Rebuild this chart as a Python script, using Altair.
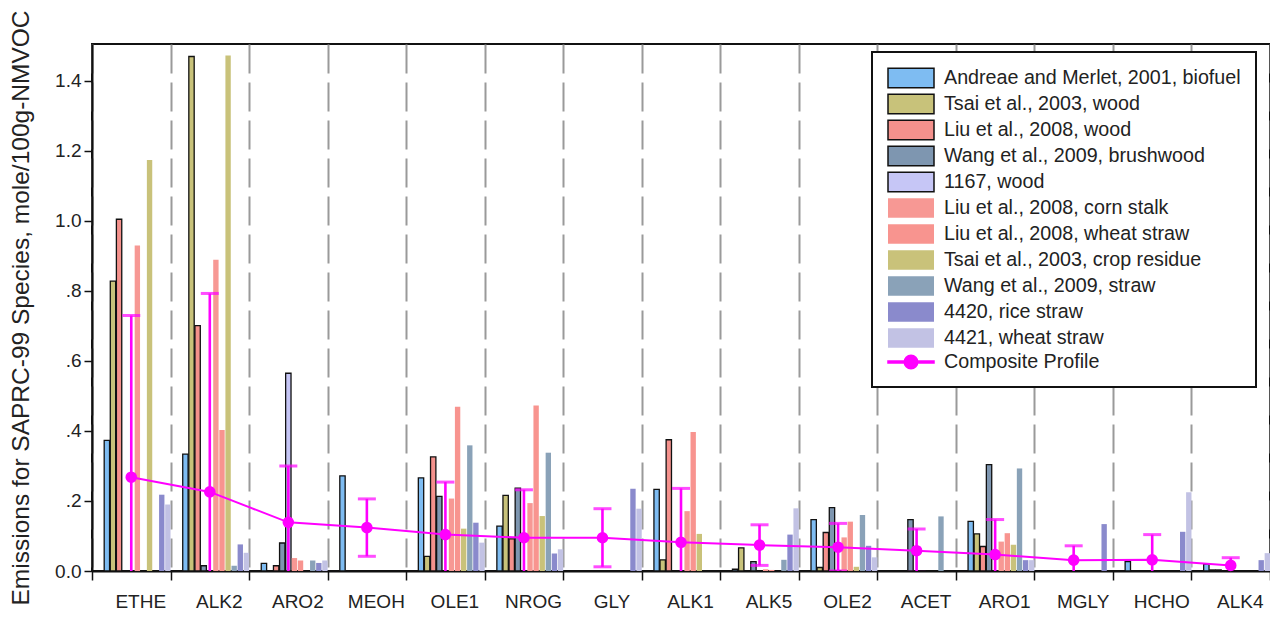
import altair as alt
import pandas as pd

categories = ["ETHE", "ALK2", "ARO2", "MEOH", "OLE1", "NROG", "GLY", "ALK1",
              "ALK5", "OLE2", "ACET", "ARO1", "MGLY", "HCHO", "ALK4"]

series_names = [
    "Andreae and Merlet, 2001, biofuel",
    "Tsai et al., 2003, wood",
    "Liu et al., 2008, wood",
    "Wang et al., 2009, brushwood",
    "1167, wood",
    "Liu et al., 2008, corn stalk",
    "Liu et al., 2008, wheat straw",
    "Tsai et al., 2003, crop residue",
    "Wang et al., 2009, straw",
    "4420, rice straw",
    "4421, wheat straw",
]
composite_name = "Composite Profile"

andreae_2001_biofuel = [0.373, 0.334, 0.022, 0.272, 0.266, 0.128, 0, 0.233, 0.005, 0.147, 0, 0.142, 0, 0.027, 0.020]
tsai_2003_wood = [0.828, 1.470, 0, 0, 0.042, 0.216, 0, 0.032, 0.066, 0.010, 0, 0.106, 0, 0, 0.003]
liu_2008_wood = [1.005, 0.701, 0.015, 0, 0.326, 0.092, 0, 0.375, 0, 0.110, 0, 0.070, 0, 0, 0.003]
wang_2009_brushwood = [0, 0.015, 0.080, 0, 0.213, 0.237, 0, 0, 0.027, 0.181, 0.147, 0.304, 0, 0, 0]
spec_1167_wood = [0, 0, 0.565, 0, 0, 0, 0, 0, 0, 0, 0, 0, 0, 0, 0]
liu_2008_corn_stalk = [0.930, 0.889, 0.037, 0, 0.207, 0.194, 0, 0.171, 0.005, 0.096, 0, 0.084, 0, 0, 0]
liu_2008_wheat_straw = [0, 0.403, 0.030, 0, 0.469, 0.473, 0, 0.397, 0.003, 0.141, 0, 0.108, 0, 0, 0]
tsai_2003_crop_residue = [1.174, 1.473, 0, 0, 0.121, 0.157, 0, 0.106, 0, 0.012, 0, 0.075, 0, 0, 0]
wang_2009_straw = [0, 0.015, 0.030, 0, 0.359, 0.338, 0, 0, 0.032, 0.160, 0.156, 0.293, 0, 0, 0]
spec_4420_rice_straw = [0.218, 0.076, 0.023, 0, 0.138, 0.050, 0.235, 0, 0.104, 0.072, 0, 0.031, 0.134, 0.112, 0.031]
spec_4421_wheat_straw = [0.190, 0.052, 0.030, 0, 0.081, 0.062, 0.178, 0, 0.179, 0.039, 0, 0.031, 0, 0.225, 0.051]

composite_mean = [0.268, 0.226, 0.139, 0.124, 0.104, 0.095, 0.095, 0.082, 0.074, 0.068, 0.058, 0.047, 0.031, 0.032, 0.016]
composite_err = [0.462, 0.567, 0.161, 0.082, 0.150, 0.137, 0.083, 0.154, 0.058, 0.068, 0.062, 0.100, 0.041, 0.072, 0.022]

series_values = [andreae_2001_biofuel, tsai_2003_wood, liu_2008_wood, wang_2009_brushwood,
                 spec_1167_wood, liu_2008_corn_stalk, liu_2008_wheat_straw,
                 tsai_2003_crop_residue, wang_2009_straw, spec_4420_rice_straw,
                 spec_4421_wheat_straw]

fill_colors = ["#7EBCF2", "#C8C27A", "#F4918C", "#7E96B0", "#C6C6F6", "#F79894",
               "#F8948F", "#C9C27A", "#8AA2B8", "#8A8ACC", "#C2C2E4", "#FF00FF"]
stroke_colors = ["#111111"] * 5 + ["transparent"] * 6 + ["#FF00FF"]

# legend glyphs (unit = 10 px at symbolSize 400)
rect_path = "M-2.3,-0.97H2.3V0.97H-2.3Z"
comp_path = "M-2.3,-0.11H2.3V0.11H-2.3Z M0.68,0 A0.68,0.68 0 1,1 -0.68,0 A0.68,0.68 0 1,1 0.68,0 Z"

rows = []
for name, vals in zip(series_names, series_values):
    for cat, v in zip(categories, vals):
        if v > 0:
            rows.append({"category": cat, "series": name, "value": v})
bars_df = pd.DataFrame(rows)

comp_df = pd.DataFrame({
    "category": categories,
    "mean": composite_mean,
    "lower": [m - e for m, e in zip(composite_mean, composite_err)],
    "upper": [m + e for m, e in zip(composite_mean, composite_err)],
})

legend_df = pd.DataFrame({"series": series_names + [composite_name]})

FONT = "Liberation Sans"
all_series = series_names + [composite_name]

fill_scale = alt.Scale(domain=all_series, range=fill_colors)
stroke_scale = alt.Scale(domain=all_series, range=stroke_colors)
shape_scale = alt.Scale(domain=all_series, range=[rect_path] * 11 + [comp_path])

leg = alt.Legend(title=None, orient="none", legendX=780, legendY=8, padding=15,
                 strokeColor="#111111", fillColor="white", symbolSize=400,
                 symbolStrokeWidth=1.5, labelFontSize=19.7, labelFont=FONT,
                 labelColor="#222222", labelOffset=22, rowPadding=0,
                 labelLimit=500, symbolOffset=13)

x_axis = alt.Axis(title=None, tickBand="extent", grid=True, gridDash=[29, 9],
                  gridColor="#9a9a9a", gridWidth=2, tickSize=9, tickColor="#111111",
                  tickWidth=1.5, labelOffset=9, labelPadding=12, labelFontSize=19,
                  labelAngle=0, labelFont=FONT, labelColor="#222222",
                  domainColor="#111111", domainWidth=2)
x_enc = alt.X("category:N", sort=categories,
              scale=alt.Scale(paddingInner=0, paddingOuter=0), axis=x_axis)

y_axis = alt.Axis(title="Emissions for SAPRC-99 Species, mole/100g-NMVOC",
                  values=[0, 0.2, 0.4, 0.6, 0.8, 1.0, 1.2, 1.4],
                  labelExpr="datum.value == 0 ? '0.0' : (datum.value < 0.99 ? replace(format(datum.value, '.1f'), '0.', '.') : format(datum.value, '.1f'))",
                  grid=False, tickSize=8, tickColor="#111111", tickWidth=1.5,
                  labelFontSize=19, labelFont=FONT, labelColor="#222222", labelPadding=3,
                  titleFontSize=24.5, titleFont=FONT, titleFontWeight="normal",
                  titleColor="#222222", titlePadding=21,
                  domainColor="#111111", domainWidth=2)
y_scale = alt.Scale(domain=[0, 1.5057], nice=False, zero=True)

bars = alt.Chart(bars_df).mark_bar(strokeWidth=1.3).encode(
    x=x_enc,
    xOffset=alt.XOffset("series:N", scale=alt.Scale(domain=["_pad1", "_pad2"] + series_names,
                                                     paddingInner=0.12, paddingOuter=0)),
    y=alt.Y("value:Q", scale=y_scale, axis=y_axis),
    fill=alt.Fill("series:N", scale=fill_scale, legend=leg),
    stroke=alt.Stroke("series:N", scale=stroke_scale, legend=leg),
)

legend_layer = alt.Chart(legend_df).mark_point(opacity=0, filled=True).encode(
    fill=alt.Fill("series:N", scale=fill_scale, legend=leg),
    stroke=alt.Stroke("series:N", scale=stroke_scale, legend=leg),
    shape=alt.Shape("series:N", scale=shape_scale, legend=leg),
)

MAG = "#FF00FF"
line = alt.Chart(comp_df).mark_line(color=MAG, strokeWidth=2).encode(
    x=x_enc, y=alt.Y("mean:Q", scale=y_scale, axis=y_axis))
err = alt.Chart(comp_df).mark_rule(color=MAG, strokeWidth=2.6, clip=True).encode(
    x=x_enc, y=alt.Y("lower:Q", scale=y_scale, axis=y_axis), y2="upper:Q")
cap_hi = alt.Chart(comp_df).mark_tick(color=MAG, thickness=3, size=18, orient="horizontal", clip=True).encode(
    x=x_enc, y=alt.Y("upper:Q", scale=y_scale, axis=y_axis))
cap_lo = alt.Chart(comp_df).mark_tick(color=MAG, thickness=3, size=18, orient="horizontal", clip=True).encode(
    x=x_enc, y=alt.Y("lower:Q", scale=y_scale, axis=y_axis))
pts = alt.Chart(comp_df).mark_circle(color=MAG, size=135, opacity=1).encode(
    x=x_enc, y=alt.Y("mean:Q", scale=y_scale, axis=y_axis))

chart = alt.layer(bars, legend_layer, line, err, cap_hi, cap_lo, pts).properties(
    width=1178, height=527,
    autosize=alt.AutoSizeParams(type="none"),
    padding={"left": 84, "top": 36, "right": 0, "bottom": 40},
).configure_view(stroke="#111111", strokeWidth=2).configure_legend(strokeWidth=2)

chart.save("out.html", embed_options={"renderer": "svg", "actions": False})
